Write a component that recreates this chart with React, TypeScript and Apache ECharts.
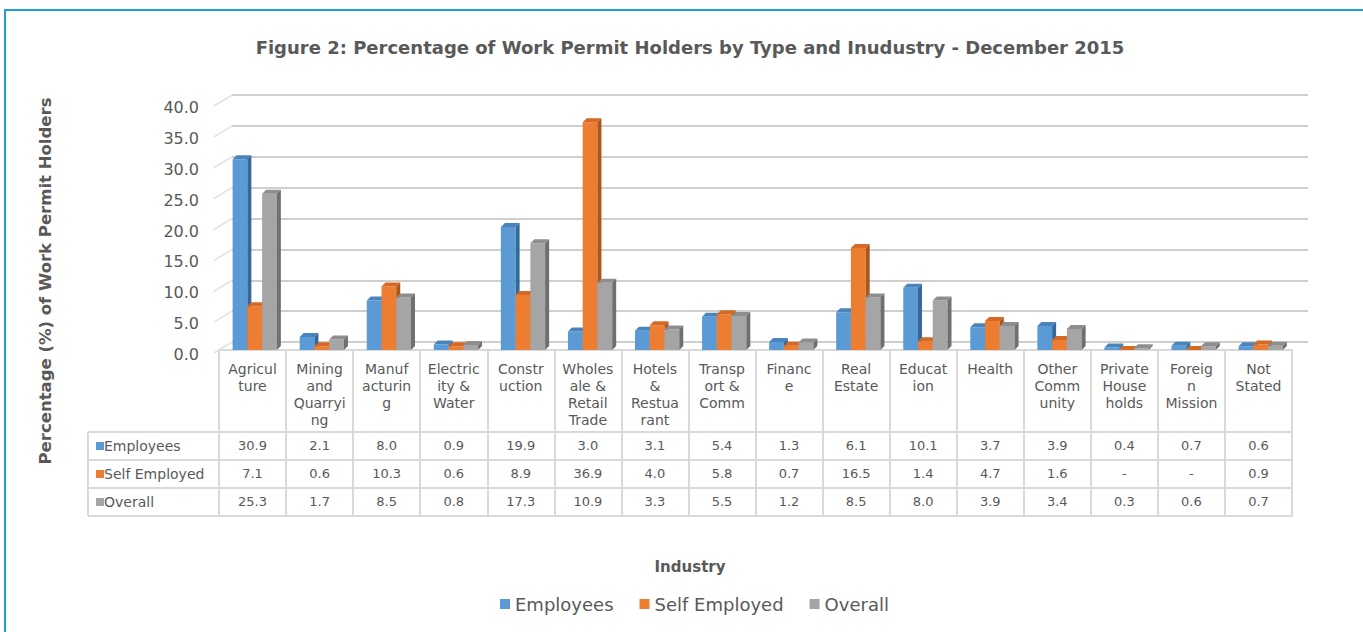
import React, { useEffect, useRef } from "react";
import * as echarts from "echarts";

const categories = [
  "Agricul\nture", "Mining\nand\nQuarryi\nng", "Manuf\nacturin\ng", "Electric\nity &\nWater",
  "Constr\nuction", "Wholes\nale &\nRetail\nTrade", "Hotels\n&\nRestua\nrant", "Transp\nort &\nComm",
  "Financ\ne", "Real\nEstate", "Educat\nion", "Health", "Other\nComm\nunity", "Private\nHouse\nholds",
  "Foreig\nn\nMission", "Not\nStated",
];
const employees: (number | null)[] = [30.9, 2.1, 8.0, 0.9, 19.9, 3.0, 3.1, 5.4, 1.3, 6.1, 10.1, 3.7, 3.9, 0.4, 0.7, 0.6];
const selfEmployed: (number | null)[] = [7.1, 0.6, 10.3, 0.6, 8.9, 36.9, 4.0, 5.8, 0.7, 16.5, 1.4, 4.7, 1.6, null, null, 0.9];
const overall: (number | null)[] = [25.3, 1.7, 8.5, 0.8, 17.3, 10.9, 3.3, 5.5, 1.2, 8.5, 8.0, 3.9, 3.4, 0.3, 0.6, 0.7];
const seriesNames = ["Employees", "Self Employed", "Overall"];
const yTicks = [0, 5, 10, 15, 20, 25, 30, 35, 40];

const FONT = "DejaVu Sans";
const TXT = "#595959";
const LINE = "#d9d9d9";
const FRONT = ["#5b9bd5", "#ed7d31", "#a5a5a5"];
const TOP = ["#4a84bd", "#d46a24", "#8e8e8e"];
const SIDE = ["#36699b", "#ad561b", "#6f6f6f"];

const fmt = (v: number | null) => (v === null ? "-" : v.toFixed(1));

function barRenderer(sIdx: number) {
  return (params: any, api: any) => {
    const ci = api.value(0);
    const v = api.value(1);
    const base = api.coord([ci, 0]);
    const top = api.coord([ci, v]);
    const band = api.size([1, 0])[0];
    const bw = band * 0.22;
    const x0 = base[0] - 1.5 * bw + band * 0.033 + sIdx * bw;
    const dx = 4;
    const dy = 4;
    const yT = top[1];
    const yB = base[1];
    return {
      type: "group",
      children: [
        { type: "rect", shape: { x: x0, y: yT, width: bw, height: yB - yT }, style: { fill: FRONT[sIdx] } },
        {
          type: "polygon",
          shape: { points: [[x0, yT], [x0 + dx, yT - dy], [x0 + bw + dx, yT - dy], [x0 + bw, yT]] },
          style: { fill: TOP[sIdx] },
        },
        {
          type: "polygon",
          shape: { points: [[x0 + bw, yT], [x0 + bw + dx, yT - dy], [x0 + bw + dx, yB - dy], [x0 + bw, yB]] },
          style: { fill: SIDE[sIdx] },
        },
      ],
    };
  };
}

const rowValues = [employees, selfEmployed, overall];

export default function App() {
  const ref = useRef<HTMLDivElement>(null);
  useEffect(() => {
    if (!ref.current) return;
    const chart = echarts.init(ref.current, undefined, { renderer: "svg" });

    const tableAxis = (offset: number, values: (number | null)[] | null) => ({
      type: "category",
      gridIndex: 0,
      data: categories,
      position: "bottom",
      offset,
      axisLine: { show: true, lineStyle: { color: LINE, width: 2 } },
      axisTick: { show: values !== null, interval: 0, length: 28, lineStyle: { color: LINE, width: 2 } },
      axisLabel: {
        show: values !== null,
        interval: 0,
        margin: 7,
        fontSize: 13,
        color: TXT,
        fontFamily: FONT,
        formatter: (_v: string, idx: number) => (values ? fmt(values[idx]) : ""),
      },
      splitLine: { show: false },
    });

    const rowTop = 432;
    const rowH = 28;
    const graphics: any[] = [
      {
        type: "rect",
        shape: { x: 5, y: 10, width: 1400, height: 700 },
        style: { fill: "none", stroke: "#1f9fda", lineWidth: 2 },
        silent: true,
      },
      {
        type: "text",
        x: 690,
        y: 47,
        style: {
          text: "Figure 2: Percentage of Work Permit Holders by Type and Inudustry - December 2015",
          font: `bold 18px "${FONT}"`,
          fill: TXT,
          align: "center",
          verticalAlign: "middle",
        },
      },
      {
        type: "text",
        x: 45,
        y: 281,
        rotation: Math.PI / 2,
        style: {
          text: "Percentage (%) of Work Permit Holders",
          font: `bold 16.5px "${FONT}"`,
          fill: TXT,
          align: "center",
          verticalAlign: "middle",
        },
      },
      {
        type: "text",
        x: 690,
        y: 567,
        style: {
          text: "Industry",
          font: `bold 15px "${FONT}"`,
          fill: TXT,
          align: "center",
          verticalAlign: "middle",
        },
      },
      {
        type: "line",
        shape: { x1: 88, y1: rowTop, x2: 88, y2: rowTop + 3 * rowH },
        style: { stroke: LINE, lineWidth: 2 },
      },
    ];
    for (let i = 0; i <= 3; i++) {
      graphics.push({
        type: "line",
        shape: { x1: 88, y1: rowTop + i * rowH, x2: 220, y2: rowTop + i * rowH },
        style: { stroke: LINE, lineWidth: 2 },
      });
    }
    seriesNames.forEach((name, i) => {
      const cy = rowTop + i * rowH + rowH / 2;
      graphics.push({
        type: "rect",
        shape: { x: 96, y: cy - 4, width: 8, height: 8 },
        style: { fill: FRONT[i] },
      });
      graphics.push({
        type: "text",
        x: 104,
        y: cy,
        style: { text: name, font: `14px "${FONT}"`, fill: TXT, align: "left", verticalAlign: "middle" },
      });
    });

    const option: any = {
      animation: false,
      backgroundColor: "#ffffff",
      textStyle: { fontFamily: FONT },
      grid: [
        { left: 219, right: 71, top: 103, bottom: 282, containLabel: false },
        { left: 232, right: 55, top: 95, bottom: 290, containLabel: false },
      ],
      legend: {
        data: seriesNames,
        left: 495,
        top: 590,
        icon: "rect",
        itemWidth: 10,
        itemHeight: 10,
        itemGap: 26,
        textStyle: { fontSize: 18, color: TXT, fontFamily: FONT },
      },
      xAxis: [
        {
          type: "category",
          gridIndex: 0,
          data: categories,
          position: "bottom",
          offset: 0,
          axisLine: { show: true, lineStyle: { color: LINE, width: 2 } },
          axisTick: { show: true, interval: 0, length: 82, lineStyle: { color: LINE, width: 2 } },
          axisLabel: {
            interval: 0,
            margin: 10,
            fontSize: 14,
            lineHeight: 17,
            color: TXT,
            fontFamily: FONT,
            verticalAlign: "top",
          },
          splitLine: { show: false },
        },
        tableAxis(82, employees),
        tableAxis(110, selfEmployed),
        tableAxis(138, overall),
        tableAxis(166, null),
        { type: "value", gridIndex: 1, show: false, min: 0, max: 1 },
      ],
      yAxis: [
        {
          type: "value",
          gridIndex: 0,
          min: 0,
          max: 40,
          interval: 5,
          axisLine: { show: false },
          axisTick: { show: false },
          splitLine: { show: false },
          axisLabel: {
            margin: 20,
            color: TXT,
            fontFamily: FONT,
            formatter: (v: number) => `{t|${v.toFixed(1)}}`,
            rich: {
              t: { fontSize: 16, color: TXT, fontFamily: FONT, padding: [9, 0, 0, 0] },
            },
          },
        },
        {
          type: "value",
          gridIndex: 1,
          min: 0,
          max: 40,
          interval: 5,
          axisLine: { show: false },
          axisTick: { show: false },
          axisLabel: { show: false },
          splitLine: { show: true, lineStyle: { color: "#cfcfcf", width: 2 } },
        },
      ],
      series: [
        {
          type: "custom",
          name: "walls",
          xAxisIndex: 0,
          yAxisIndex: 0,
          silent: true,
          data: yTicks.map((t) => [0, t]),
          encode: { x: 0, y: 1 },
          renderItem: (params: any, api: any) => {
            const p = api.coord([0, api.value(1)]);
            const band = api.size([1, 0])[0];
            const x = p[0] - band / 2;
            return {
              type: "line",
              shape: { x1: x - 5, y1: p[1] + 3, x2: x + 13, y2: p[1] - 8 },
              style: { stroke: "#e2e2e2", lineWidth: 1.5 },
            };
          },
          z: 1,
        },
        ...rowValues.map((vals, sIdx) => ({
          type: "custom",
          name: seriesNames[sIdx],
          xAxisIndex: 0,
          yAxisIndex: 0,
          itemStyle: { color: FRONT[sIdx] },
          data: vals.map((v, i) => [i, v === null ? 0 : v]),
          encode: { x: 0, y: 1 },
          renderItem: barRenderer(sIdx),
          z: 3,
        })),
      ],
      graphic: graphics,
    };
    chart.setOption(option);
    return () => chart.dispose();
  }, []);

  return (
    <div
      ref={ref}
      style={{ position: "absolute", left: 0, top: 0, width: 1363, height: 632, background: "#fff" }}
    />
  );
}
